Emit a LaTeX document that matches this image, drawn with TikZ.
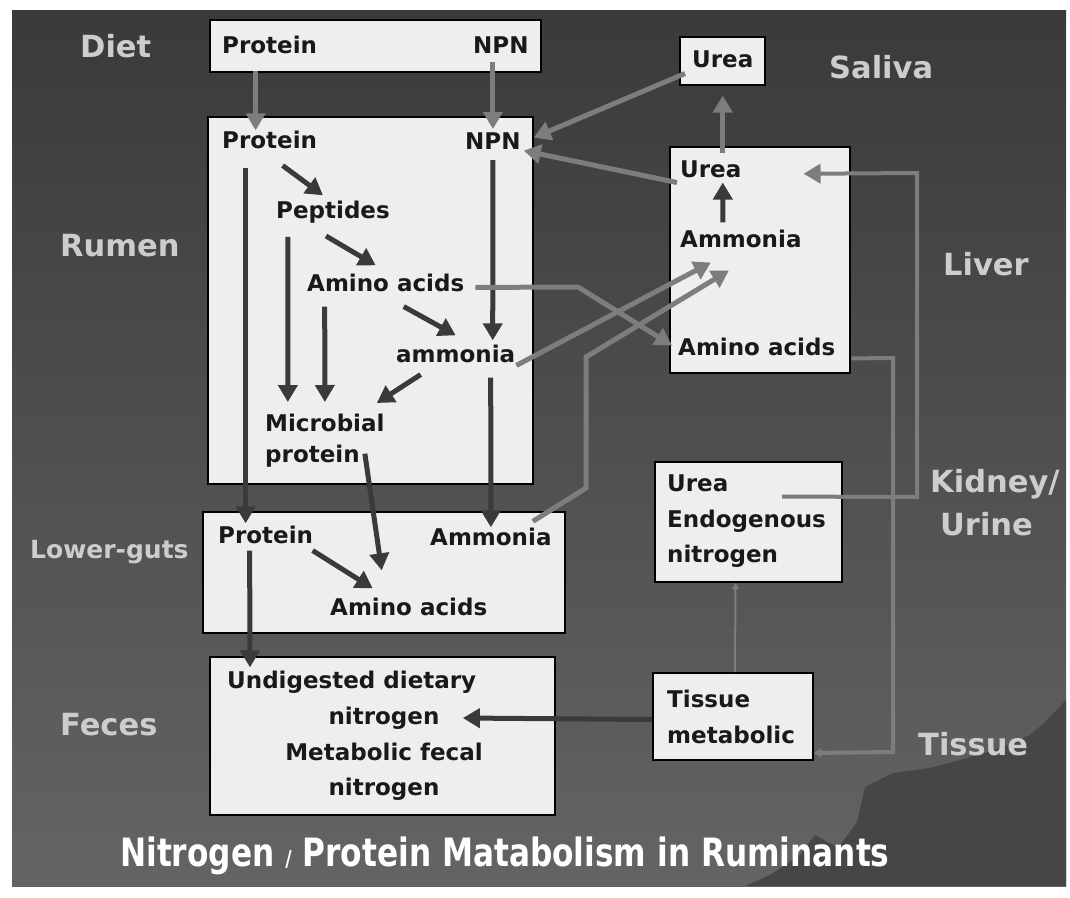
\documentclass[tikz,border=0pt]{standalone}
\usepackage{fontspec}
\setmainfont{DejaVu Sans}
\newfontfamily\titlefont[FakeStretch=0.8]{DejaVu Sans}
\usetikzlibrary{arrows.meta,fit}
\definecolor{slidetop}{RGB}{58,58,58}
\definecolor{slidelow}{RGB}{100,100,100}
\definecolor{slidedark}{RGB}{70,70,70}
\definecolor{boxfill}{RGB}{238,238,238}
\definecolor{inkdark}{RGB}{58,58,58}
\definecolor{inkgray}{RGB}{125,125,125}
\definecolor{lblgray}{RGB}{205,205,205}

\begin{document}
\begin{tikzpicture}[x=1pt,y=-1pt,>={Triangle[length=17pt,width=19pt]},
  organ/.style={draw=black,line width=2pt,fill=boxfill,inner sep=0pt},
  txt/.style={inner sep=0pt,anchor=base west,font=\fontsize{23}{35.5}\selectfont\bfseries,text=black!90},
  side/.style={inner sep=0pt,anchor=base west,font=\fontsize{30.5}{36}\selectfont\bfseries,text=lblgray},
  dlink/.style={->,draw=inkdark,line width=5pt},
  glink/.style={->,draw=inkgray,line width=5pt}]
    \useasboundingbox (0,0) rectangle (1070,897);
    \fill[white] (0,0) rectangle (1070,897);
    \shade[top color=slidetop,bottom color=slidelow] (12,10) rectangle (1066,886);
    \fill[slidedark] (1066,700) -- (1045,722) -- (1030,735) -- (995,750) -- (960,760) -- (930,768) -- (893,773) -- (865,787) -- (857,822) -- (838,848) -- (815,835) -- (800,855) -- (770,875) -- (745,886) -- (1066,886) -- cycle;
    \node[organ,fit={(210,20) (541,72)}] (dietbox) {};
    \node[organ,fit={(208,117) (533,484)}] (rumbox) {};
    \node[organ,fit={(203,512) (565,633)}] (lowbox) {};
    \node[organ,fit={(210,657) (555,815)}] (fecbox) {};
    \node[organ,fit={(680,37) (765,85)}] (salbox) {};
    \node[organ,fit={(670,147) (850,373)}] (livbox) {};
    \node[organ,fit={(655,462) (842,582)}] (kidbox) {};
    \node[organ,fit={(653,673) (813,760)}] (tisbox) {};
    \foreach \x/\y/\t/\n in {80/57/Diet/ldiet, 60/256/Rumen/lrumen, 60/735/Feces/lfeces, 829/78/Saliva/lsaliva, 943/275/Liver/lliver, 930/492/{Kidney/}/lkidney, 940/535/Urine/lurine, 918/755/Tissue/ltissue}
        \node[side] (\n) at (\x,\y) {\t};
    \node[side,font=\fontsize{25}{30}\selectfont\bfseries] (llower) at (30,558) {Lower-guts};
    \node[inner sep=0pt,anchor=base west,font=\titlefont\fontsize{39}{40}\selectfont\bfseries,text=white] (title) at (120,866) {Nitrogen {\fontsize{22}{22}\selectfont/} Protein Matabolism in Ruminants};
    \node[txt] (dprot) at (222,53) {Protein};
    \node[txt] (dnpn) at (473,53) {NPN};
    \node[txt] (rprot) at (222,148) {Protein};
    \node[txt] (rnpn) at (465,149) {NPN};
    \node[txt] (pept) at (276,218) {Peptides};
    \node[txt] (raa) at (307,291) {Amino acids};
    \node[txt] (ramm) at (396,362) {ammonia};
    \node[txt,anchor=north west,align=left,font=\fontsize{23}{31}\selectfont\bfseries] (micro) at (265,414) {Microbial\\protein};
    \node[txt] (lprot) at (218,543) {Protein};
    \node[txt] (lamm) at (430,545) {Ammonia};
    \node[txt] (laa) at (330,615) {Amino acids};
    \node[txt] (fec1) at (227,688) {Undigested dietary};
    \node[txt,anchor=north,align=center] (fec2) at (384,707) {nitrogen\\Metabolic fecal\\nitrogen};
    \node[txt] (suo) at (692,67) {Urea};
    \node[txt] (lurea) at (680,177) {Urea};
    \node[txt] (lamm2) at (680,247) {Ammonia};
    \node[txt] (liaa) at (678,355) {Amino acids};
    \node[txt,anchor=north west,align=left] (kid) at (667,475) {Urea\\Endogenous\\nitrogen};
    \node[txt,anchor=north west,align=left] (tis) at (667,690) {Tissue\\metabolic};
    \coordinate (aabend) at (578,287);
    \coordinate (gutbend1) at (586,488);
    \coordinate (gutbend2) at (586,357);
    \coordinate (kidbend1) at (917,497);
    \coordinate (kidbend2) at (917,173);
    \coordinate (tisbend1) at (893,358);
    \coordinate (tisbend2) at (893,752);
    \draw[glink] ([xshift=-14pt,yshift=-17pt]dprot.south) -- ([xshift=-14pt]rprot.north);
    \draw[glink] ([xshift=-8pt,yshift=-9pt]dnpn.south) -- ([yshift=3pt]rnpn.north);
    \draw[dlink] ([xshift=13pt,yshift=-17pt]rprot.south) -- ([xshift=-10pt,yshift=5pt]pept.north);
    \draw[dlink] ([xshift=-7pt,yshift=-13pt]pept.south) -- ([xshift=-10pt,yshift=8pt]raa.north);
    \draw[dlink] ([xshift=18pt,yshift=-15pt]raa.south) -- ([yshift=9pt]ramm.north);
    \draw[dlink] ([xshift=-35pt,yshift=-12pt]ramm.south) -- ([xshift=52pt,yshift=11pt]micro.north);
    \draw[dlink] ([xshift=-45pt,yshift=-14pt]pept.south) -- ([xshift=-37pt,yshift=12pt]micro.north);
    \draw[dlink] ([xshift=-61pt,yshift=-15pt]raa.south) -- ([yshift=12pt]micro.north);
    \draw[dlink] ([xshift=-24pt,yshift=-19pt]rprot.south) -- ([xshift=-20pt,yshift=2pt]lprot.north);
    \draw[dlink] ([yshift=-11pt]rnpn.south) -- ([xshift=37pt,yshift=4pt]ramm.north);
    \draw[dlink] ([xshift=35pt,yshift=-15pt]ramm.south) -- (lamm.north);
    \draw[dlink] ([xshift=40pt,yshift=14pt]micro.south) -- ([xshift=-27pt,yshift=27pt]laa.north);
    \draw[dlink] ([xshift=47pt,yshift=-7pt]lprot.south) -- ([xshift=-36pt,yshift=9pt]laa.north);
    \draw[dlink] ([xshift=-16pt,yshift=-7pt]lprot.south) -- ([xshift=23pt,yshift=3pt]fec1.north west);
    \draw[glink] ([xshift=11pt,yshift=-5pt]raa.east) -- (aabend) -- ([xshift=-6pt,yshift=1pt]liaa.west);
    \draw[glink] ([xshift=1pt,yshift=-12pt]ramm.east) -- ([xshift=-30pt,yshift=-15pt]lamm2.south);
    \draw[glink] ([xshift=42pt,yshift=6pt]lamm.north) -- (gutbend1) -- (gutbend2) -- ([xshift=-12pt,yshift=-23pt]lamm2.south);
    \draw[glink] ([xshift=12pt,yshift=7pt]lurea.north) -- ([yshift=-28pt]suo.south);
    \draw[dlink] ([xshift=-18pt,yshift=7pt]lamm2.north) -- ([xshift=12pt,yshift=-5pt]lurea.south);
    \draw[glink] ([xshift=-7pt,yshift=-6pt]suo.south west) -- ([xshift=13pt,yshift=3pt]rnpn.east);
    \draw[glink] ([xshift=-3pt,yshift=-5pt]lurea.south west) -- ([xshift=3pt,yshift=-10pt]rnpn.east);
    \draw[glink,line width=4pt] ([xshift=-44pt,yshift=25pt]kid.east) -- (kidbend1) -- (kidbend2) -- ([xshift=62pt,yshift=-5pt]lurea.east);
    \draw[glink,line width=4pt,-{Triangle[length=7pt,width=9pt]}] ([xshift=16pt,yshift=-12pt]liaa.east) -- (tisbend1) -- (tisbend2) -- ([yshift=8pt]tisbox.south east);
    \draw[glink,line width=2pt,-{Triangle[length=6pt,width=7pt]}] ([xshift=2pt]tisbox.north) -- ([xshift=-13pt]kidbox.south);
    \draw[dlink] ([yshift=-3pt]tisbox.west) -- ([xshift=-20pt,yshift=-11pt]fec2.north east);
\end{tikzpicture}
\end{document}
